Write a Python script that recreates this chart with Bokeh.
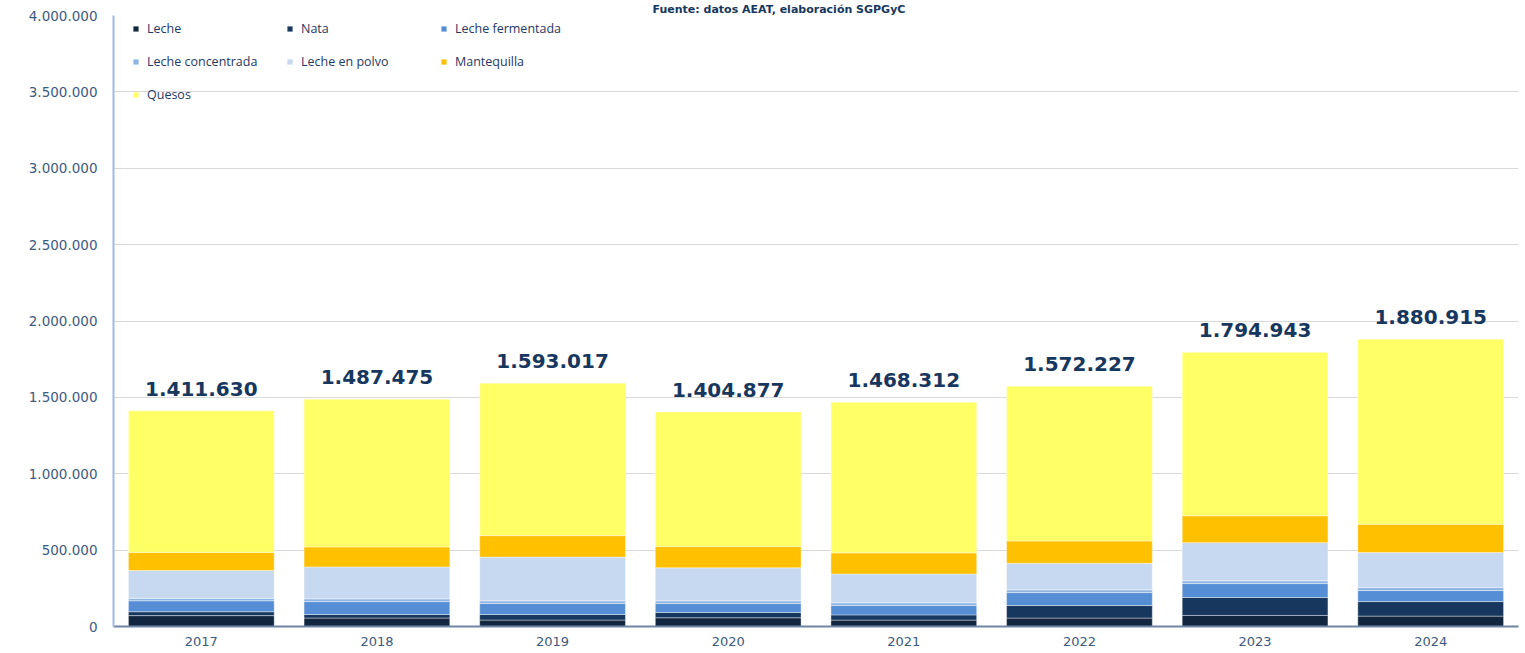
from bokeh.plotting import figure
from bokeh.models import ColumnDataSource, FixedTicker
from bokeh.core.properties import value
from bokeh.embed import file_html
from bokeh.resources import INLINE

years = ["2017", "2018", "2019", "2020", "2021", "2022", "2023", "2024"]
leche = [71250, 55300, 42100, 57200, 41800, 55200, 72400, 68000]
nata = [25480, 23150, 36300, 34600, 34300, 82000, 117700, 95100]
leche_fermentada = [71900, 84700, 71800, 58300, 61100, 84600, 90900, 72100]
leche_concentrada = [15320, 17900, 17700, 17800, 17900, 18100, 18000, 19800]
leche_en_polvo = [183400, 209200, 286400, 216100, 188900, 174100, 250000, 229000]
mantequilla = [117650, 130750, 140700, 139000, 138000, 146000, 176000, 185000]
quesos = [926630, 966475, 998017, 881877, 986312, 1012227, 1069943, 1211915]

series_keys = ["leche", "nata", "ferm", "conc", "polvo", "mant", "quesos"]
series_labels = ["Leche", "Nata", "Leche fermentada", "Leche concentrada",
                 "Leche en polvo", "Mantequilla", "Quesos"]
colors = ["#12263f", "#17375e", "#558ed5", "#8eb4e3", "#c6d9f1", "#ffc000", "#ffff66"]
y_ticks = [0, 500000, 1000000, 1500000, 2000000, 2500000, 3000000, 3500000, 4000000]
title_text = "Fuente: datos AEAT, elaboración SGPGyC"


def fmt(v):
    return f"{int(v):,}".replace(",", ".")


data = dict(years=years, leche=leche, nata=nata, ferm=leche_fermentada,
            conc=leche_concentrada, polvo=leche_en_polvo, mant=mantequilla, quesos=quesos)
totals = [sum(vals) for vals in zip(leche, nata, leche_fermentada, leche_concentrada,
                                    leche_en_polvo, mantequilla, quesos)]
data["total"] = totals
data["total_label"] = [fmt(t) for t in totals]
source = ColumnDataSource(data)

p = figure(x_range=years, y_range=(0, 4000000), width=1520, height=649,
           output_backend="svg", toolbar_location=None,
           min_border_left=113, min_border_right=2, min_border_top=14, min_border_bottom=23)
p.outline_line_color = None
p.background_fill_color = "white"
p.x_range.range_padding = 0

# title (partly cut off in the original; kept fully visible here)
p.title.text = title_text
p.title.align = "left"
p.title.offset = 539
p.title.standoff = 0
p.title.text_line_height = 0.75
p.title.text_font = "DejaVu Sans"
p.title.text_font_style = "bold"
p.title.text_font_size = "11px"
p.title.text_color = "#17375e"

p.vbar_stack(series_keys, x="years", width=0.83, color=colors, source=source,
             line_color="white", line_width=0.8, line_alpha=0.5,
             legend_label=series_labels)

p.text(x="years", y="total", text="total_label", source=source,
       text_align="center", text_baseline="bottom", y_offset=-15,
       text_font=value("DejaVu Sans"), text_font_style="bold",
       text_font_size="20px", text_color="#17375e")

# axes
p.yaxis.ticker = FixedTicker(ticks=y_ticks)
p.yaxis.major_label_overrides = {t: fmt(t) for t in y_ticks}
p.yaxis.axis_line_color = "#9dbbe3"
p.yaxis.axis_line_width = 2
p.yaxis.major_tick_line_color = None
p.yaxis.minor_tick_line_color = None
p.yaxis.major_label_standoff = 10
p.yaxis.major_label_text_font = "DejaVu Sans"
p.yaxis.major_label_text_font_size = "13.5px"
p.yaxis.major_label_text_color = "#3d5a80"

p.xaxis.axis_line_color = "#6f85a6"
p.xaxis.axis_line_width = 2
p.xaxis.major_tick_line_color = None
p.xaxis.major_label_standoff = 4
p.xaxis.major_label_text_font = "DejaVu Sans"
p.xaxis.major_label_text_font_size = "13px"
p.xaxis.major_label_text_color = "#3d5a80"

p.xgrid.grid_line_color = None
p.ygrid.grid_line_color = "#d9d9d9"
p.ygrid.grid_line_width = 1

# legend
lg = p.legend[0]
lg.ncols = 3
lg.orientation = "horizontal"
lg.location = (19, 522)
lg.padding = 0
lg.margin = 0
lg.spacing = 13
lg.border_line_color = None
lg.background_fill_alpha = 0
lg.glyph_width = 7
lg.glyph_height = 7
lg.label_standoff = 8
lg.label_width = 126
lg.label_height = 20
lg.label_text_font = "Open Sans"
lg.label_text_font_size = "12.5px"
lg.label_text_color = "#1f3864"

open("out.html", "w").write(file_html(p, INLINE))
